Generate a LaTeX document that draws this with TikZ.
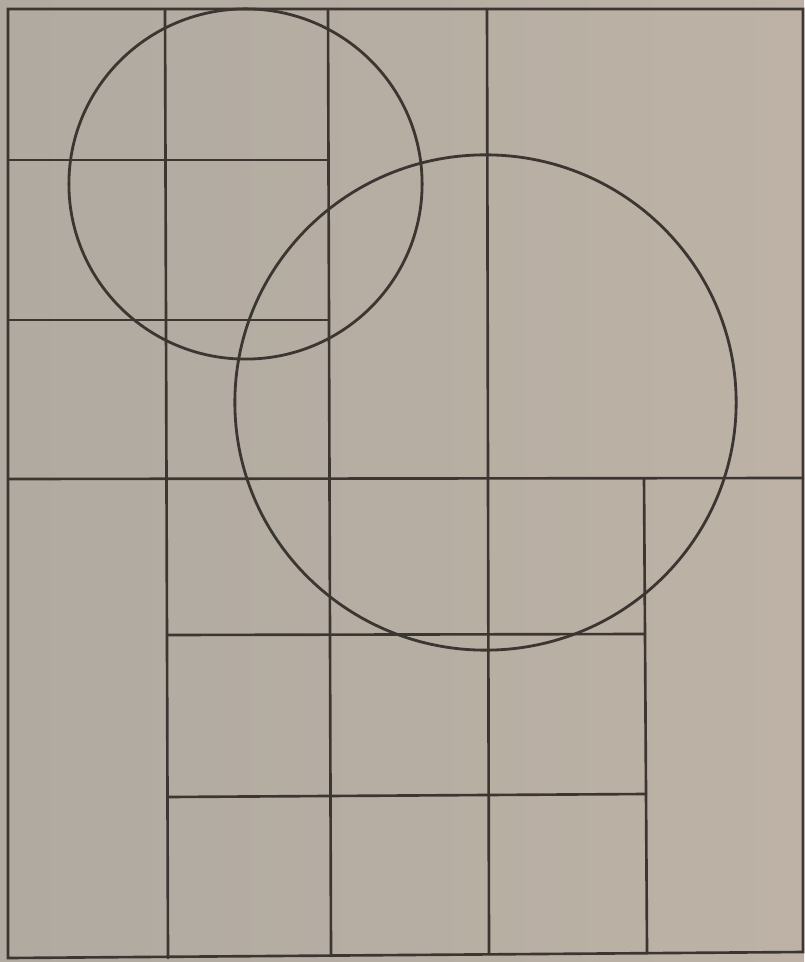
\documentclass[tikz,border=0pt]{standalone}
\usetikzlibrary{calc}
\definecolor{paperL}{RGB}{176,170,161}
\definecolor{paperR}{RGB}{189,178,165}
\definecolor{ink}{RGB}{60,54,51}
\tikzset{
    % Lines
    rule/.style={ink, line width=0.75pt, line cap=round},
    ring/.style={ink, line width=0.8pt}
}
\begin{document}
\begin{tikzpicture}[x=0.01cm, y=-0.01cm]

% paper
\fill[left color=paperL, right color=paperR] (0,0) rectangle (804,962);
\useasboundingbox (0,0) rectangle (804,962);

% frame
\draw[rule] (8,9) -- (803,9) -- (803,952) -- (8,958) -- cycle;

% vertical rules
\draw[rule] (165,9) -- (168,958);
\draw[rule] (328,9) -- (331,956);
\draw[rule] (487,9) -- (489,954);
\draw[rule] (644,479) -- (647,952);

% horizontal rules
\draw[rule] (8,160) -- (328,160);
\draw[rule] (8,320) -- (329,320);
\draw[rule] (8,479) -- (803,478);
\draw[rule] (167,635) -- (645,634);
\draw[rule] (168,797) -- (646,794);

% circles
\draw[ring] (245.5,184) circle[x radius=1.765cm, y radius=1.75cm];
\draw[ring] (485.5,402.5) circle[x radius=2.505cm, y radius=2.475cm];

\end{tikzpicture}
\end{document}
